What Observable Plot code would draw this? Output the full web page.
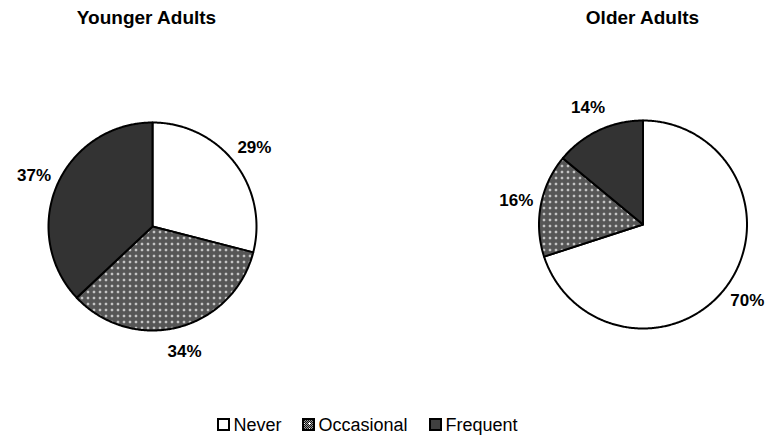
<!DOCTYPE html>
<html>
<head>
<meta charset="utf-8">
<script src="https://cdn.jsdelivr.net/npm/d3@7"></script>
<script src="https://cdn.jsdelivr.net/npm/@observablehq/plot@0.6"></script>
<style>
  body { margin: 0; background: #fff; }
  #chart { width: 773px; height: 439px; }
</style>
</head>
<body>
<div id="chart"></div>
<script>
// Share of respondents by usage frequency, per age group (percent)
const categories = ["Never", "Occasional", "Frequent"];
const groups = ["Younger Adults", "Older Adults"];
const youngerValues = [29, 34, 37];
const olderValues = [70, 16, 14];

// Slice fills, in category order
const sliceFills = ["#ffffff", "url(#dots)", "#333333"];
const legendFills = ["#ffffff", "url(#dots)", "#404040"];

// Layout of the two pies in the drawing (pixel space)
const W = 773, H = 439;
const pies = [
  {group: groups[0], values: youngerValues, cx: 152, cy: 226, titleX: 146},
  {group: groups[1], values: olderValues, cx: 642.5, cy: 224, titleX: 642}
];
const R = 104;        // pie radius
const labelR = 129;   // radius of the percent labels

// Build slice outlines (polygon points) and label positions from d3.pie angles
const pieGen = d3.pie().sort(null).value(d => d.value);
const slicePts = [];
const labels = [];
pies.forEach((p, gi) => {
  const rows = categories.map((c, i) => ({category: c, value: p.values[i], ci: i}));
  pieGen(rows).forEach(a => {
    const id = `${gi}-${a.data.ci}`;
    const n = Math.max(2, Math.ceil((a.endAngle - a.startAngle) / 0.01));
    slicePts.push({id, ci: a.data.ci, x: p.cx, y: p.cy});
    for (let k = 0; k <= n; k++) {
      const t = a.startAngle + (a.endAngle - a.startAngle) * k / n;
      slicePts.push({id, ci: a.data.ci, x: p.cx + R * Math.sin(t), y: p.cy - R * Math.cos(t)});
    }
    const m = (a.startAngle + a.endAngle) / 2;
    labels.push({x: p.cx + labelR * Math.sin(m), y: p.cy - labelR * Math.cos(m), text: `${a.data.value}%`});
  });
});

// Legend entries along the bottom
const legendX = [218, 303, 430];
const legendY = 424.5;
const legend = categories.map((c, i) => ({category: c, x: legendX[i], fill: legendFills[i]}));

const marks = [];
categories.forEach((c, i) => {
  marks.push(Plot.line(slicePts.filter(d => d.ci === i), {
    x: "x", y: "y", z: "id", curve: "linear-closed",
    fill: sliceFills[i], stroke: "#000", strokeWidth: 2, strokeLinejoin: "round"
  }));
});
marks.push(
  Plot.text(labels, {x: "x", y: "y", text: "text", fontSize: 17, fontWeight: "bold", fill: "#000"}),
  Plot.text(pies, {x: "titleX", y: () => 17.5, text: "group", fontSize: 19, fontWeight: "bold", fill: "#000"}),
  Plot.rect(legend, {
    x1: d => d.x, x2: d => d.x + 11, y1: legendY - 5.5, y2: legendY + 5.5,
    fill: d => d.fill, stroke: "#000", strokeWidth: 2
  }),
  Plot.text(legend, {
    x: d => d.x + 15, y: legendY, text: "category", textAnchor: "start",
    fontSize: 18, fill: "#000"
  })
);

const chart = Plot.plot({
  width: W, height: H,
  margin: 0,
  style: {fontFamily: "Arial, 'Liberation Sans', sans-serif", background: "#fff"},
  x: {domain: [0, W], range: [0, W], axis: null},
  y: {domain: [0, H], range: [0, H], axis: null},
  color: {type: "identity"},
  marks
});

// Dark halftone with small white crosses for the "Occasional" slices
d3.select(chart).insert("defs", ":first-child").html(`
  <pattern id="dots" patternUnits="userSpaceOnUse" width="6" height="6">
    <rect width="6" height="6" fill="#9a9a9a"/>
    ${d3.range(36).filter(k => ((k % 6) + Math.floor(k / 6)) % 2 === 0)
        .map(k => `<rect x="${k % 6}" y="${Math.floor(k / 6)}" width="1" height="1" fill="#111"/>`).join("")}
    <rect x="2" y="3" width="3" height="1" fill="#fff"/>
    <rect x="3" y="2" width="1" height="3" fill="#fff"/>
  </pattern>`);

document.getElementById("chart").appendChild(chart);
</script>
</body>
</html>
